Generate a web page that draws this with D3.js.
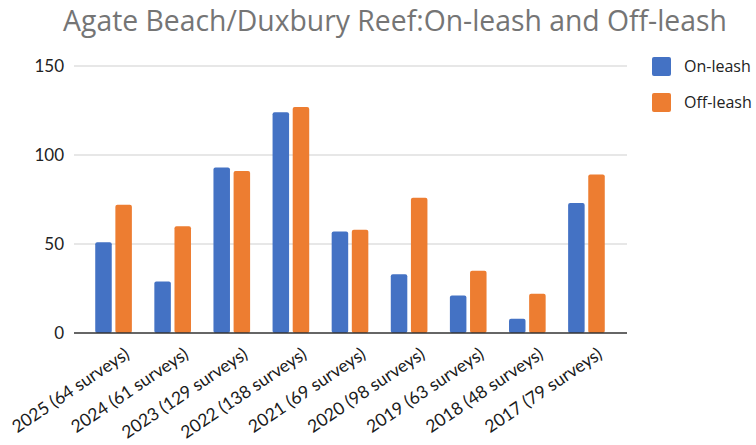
<!DOCTYPE html>
<html>
<head>
<meta charset="utf-8">
<script src="https://cdn.jsdelivr.net/npm/d3@7"></script>
<style>
  body { margin: 0; background: #fff; }
  svg { font-family: "Open Sans", "Noto Sans", sans-serif; }
</style>
</head>
<body>
<div id="chart"></div>
<script>
// data
const categories = ["2025 (64 surveys)", "2024 (61 surveys)", "2023 (129 surveys)", "2022 (138 surveys)",
  "2021 (69 surveys)", "2020 (98 surveys)", "2019 (63 surveys)", "2018 (48 surveys)", "2017 (79 surveys)"];
const onLeash = [51, 29, 93, 124, 57, 33, 21, 8, 73];
const offLeash = [72, 60, 91, 127, 58, 76, 35, 22, 89];
const seriesNames = ["On-leash", "Off-leash"];
const yTicks = [0, 50, 100, 150];

const width = 756, height = 445;
const colors = ["#4472c4", "#ed7d31"];

const svg = d3.select("#chart").append("svg")
  .attr("width", width)
  .attr("height", height);

// title
const title = svg.append("text")
  .attr("x", 395)
  .attr("y", 31)
  .attr("text-anchor", "middle")
  .attr("fill", "#757575")
  .style("font-size", "24px")
  .text("Agate Beach/Duxbury Reef:On-leash and Off-leash");
// squeeze to the width seen in the reference
const tw = title.node().getComputedTextLength();
title.style("font-size", (24 * 664 / tw) + "px");

const plot = { left: 74, right: 627, top: 66, bottom: 333 };

const x0 = d3.scaleBand()
  .domain(categories)
  .range([84, 616])
  .paddingInner(0.38)
  .paddingOuter(0.19);

const x1 = d3.scaleBand()
  .domain(seriesNames)
  .range([0, x0.bandwidth()])
  .paddingInner(0.18);

const y = d3.scaleLinear()
  .domain([0, 150])
  .range([plot.bottom, plot.top]);

// gridlines
svg.append("g")
  .selectAll("line")
  .data(yTicks.filter(d => d > 0))
  .join("line")
  .attr("x1", plot.left)
  .attr("x2", plot.right)
  .attr("y1", d => y(d))
  .attr("y2", d => y(d))
  .attr("stroke", "#cfcfcf")
  .attr("stroke-width", 1);

// y axis labels
const yAxis = d3.axisLeft(y).tickValues(yTicks).tickSize(0).tickPadding(10);
svg.append("g")
  .attr("transform", `translate(${plot.left},0)`)
  .call(yAxis)
  .call(g => g.select(".domain").remove())
  .selectAll("text")
  .attr("fill", "#222")
  .style("font-size", "17px")
  .style("font-family", "Lato, sans-serif");

// bars
const rows = categories.map((c, i) => ({ cat: c, vals: [onLeash[i], offLeash[i]] }));

svg.append("g")
  .selectAll("g")
  .data(rows)
  .join("g")
  .attr("transform", d => `translate(${x0(d.cat)},0)`)
  .selectAll("rect")
  .data(d => d.vals.map((v, k) => ({ key: seriesNames[k], v: v, k: k })))
  .join("rect")
  .attr("x", d => x1(d.key))
  .attr("y", d => y(d.v))
  .attr("width", x1.bandwidth())
  .attr("height", d => y(0) - y(d.v))
  .attr("rx", 2)
  .attr("fill", d => colors[d.k]);

// x axis
const xAxis = d3.axisBottom(x0).tickSize(0).tickPadding(0);
const xg = svg.append("g")
  .attr("transform", `translate(0,${plot.bottom})`)
  .call(xAxis);
xg.select(".domain").remove();
xg.append("line")
  .attr("x1", plot.left)
  .attr("x2", plot.right)
  .attr("stroke", "#333")
  .attr("stroke-width", 1.5);
xg.selectAll(".tick text")
  .attr("text-anchor", "end")
  .attr("fill", "#1a1a1a")
  .attr("dy", "0")
  .attr("transform", "translate(17,24) rotate(-34)")
  .style("font-size", "17.5px")
  .style("font-family", "Lato, sans-serif");

// legend
const legend = svg.append("g")
  .selectAll("g")
  .data(seriesNames)
  .join("g")
  .attr("transform", (d, i) => `translate(652,${57 + i * 36})`);

legend.append("rect")
  .attr("width", 19)
  .attr("height", 19)
  .attr("rx", 2)
  .attr("fill", (d, i) => colors[i]);

legend.append("text")
  .attr("x", 32)
  .attr("y", 15)
  .attr("fill", "#222")
  .style("font-size", "16px")
  .text(d => d);
</script>
</body>
</html>
